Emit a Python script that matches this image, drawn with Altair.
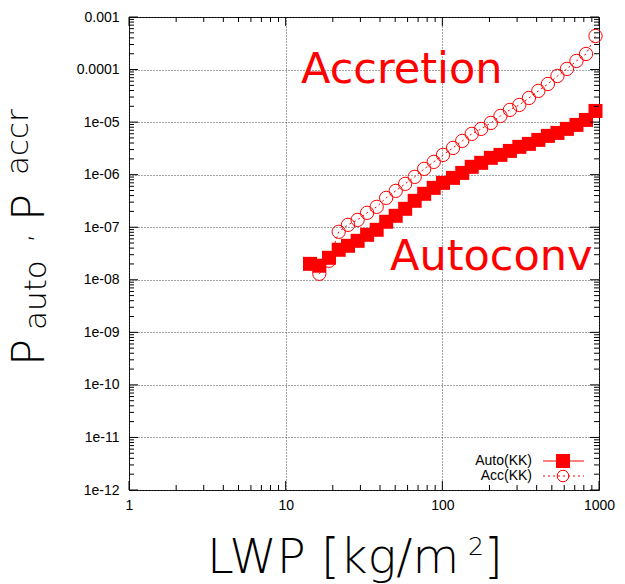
import altair as alt
import pandas as pd

# LWP bins [kg/m^2]
lwp = [14.3, 16.4, 18.9, 21.8, 25.0, 28.8, 33.1, 38.1, 43.8, 50.4, 57.9,
       66.6, 76.6, 88.1, 101, 117, 134, 154, 177, 204, 235, 270, 310, 357,
       410, 472, 543, 624, 718, 826, 950]

# autoconversion probability, KK scheme
p_auto = [2.01e-8, 1.85e-8, 2.62e-8, 3.72e-8, 4.43e-8, 5.51e-8, 7.17e-8,
          8.93e-8, 1.27e-7, 1.65e-7, 2.24e-7, 3.18e-7, 4.32e-7, 5.61e-7,
          6.98e-7, 8.69e-7, 1.08e-6, 1.41e-6, 1.68e-6, 2.09e-6, 2.38e-6,
          2.83e-6, 3.38e-6, 3.85e-6, 4.59e-6, 5.47e-6, 6.23e-6, 7.43e-6,
          8.85e-6, 1.10e-5, 1.63e-5]

# accretion probability, KK scheme (starts at the second bin)
lwp_acc = lwp[1:]
p_accr = [1.30e-8, 2.30e-8, 8.18e-8, 1.11e-7, 1.38e-7, 1.88e-7, 2.44e-7,
          3.62e-7, 4.92e-7, 6.68e-7, 9.08e-7, 1.29e-6, 1.75e-6, 2.38e-6,
          3.23e-6, 4.39e-6, 5.97e-6, 7.43e-6, 9.66e-6, 1.31e-5, 1.71e-5,
          2.12e-5, 2.88e-5, 3.92e-5, 5.32e-5, 7.55e-5, 1.03e-4, 1.46e-4,
          1.98e-4, 4.35e-4]

x_ticks = [1, 10, 100, 1000]
y_ticks = [1e-12, 1e-11, 1e-10, 1e-9, 1e-8, 1e-7, 1e-6, 1e-5, 1e-4, 1e-3]

W, H = 470, 473
RED = "#ff0000"
LABEL_FONT = "Liberation Sans"
TITLE_FONT = "DejaVu Sans"

auto_df = pd.DataFrame({"lwp": lwp, "p": p_auto})
acc_df = pd.DataFrame({"lwp": lwp_acc, "p": p_accr})

xs = alt.Scale(type="log", domain=[1, 1000], nice=False)
ys = alt.Scale(type="log", domain=[1e-12, 1e-3], nice=False)

grid_kw = dict(grid=True, gridDash=[1, 2], gridColor="#444444", gridWidth=1,
               ticks=False, domain=False, title=None, labelFlush=False,
               labelFont=LABEL_FONT, labelFontSize=14, labelColor="#000000")
x_axis = alt.Axis(values=x_ticks, labelExpr="toString(datum.value)",
                  labelPadding=8, **grid_kw)
y_axis = alt.Axis(values=y_ticks, labelPadding=10,
                  labelExpr="datum.value > 0.0005 ? '0.001' : datum.value > 0.00005 ? '0.0001' : "
                            "(round(-log(datum.value)/LN10) < 10 ? '1e-0' : '1e-') + round(-log(datum.value)/LN10)",
                  **grid_kw)

X = alt.X("lwp:Q", scale=xs, axis=x_axis)
Y = alt.Y("p:Q", scale=ys, axis=y_axis)

auto_line = alt.Chart(auto_df).mark_line(color=RED, strokeWidth=1).encode(x=X, y=Y)
auto_pts = alt.Chart(auto_df).mark_square(size=196, color=RED, opacity=1).encode(x=X, y=Y)
acc_line = alt.Chart(acc_df).mark_line(color=RED, strokeWidth=1, strokeDash=[2, 3]).encode(x=X, y=Y)
acc_pts = alt.Chart(acc_df).mark_point(shape="circle", size=177, filled=False,
                                       stroke=RED, strokeWidth=1, opacity=1).encode(x=X, y=Y)

# inward tick marks on all four sides (log minor ticks at 2..9)
x_major = pd.DataFrame({"lwp": x_ticks})
x_minor = pd.DataFrame({"lwp": [k * 10 ** d for d in range(0, 3) for k in range(2, 10)]})
y_major = pd.DataFrame({"p": y_ticks})
y_minor = pd.DataFrame({"p": [k * 10.0 ** d for d in range(-12, -3) for k in range(2, 10)]})

ticks = []
for df, ln in ((x_major, 9), (x_minor, 5)):
    ticks.append(alt.Chart(df).mark_rule(color="black", strokeWidth=1)
                 .encode(x=X, y=alt.value(H), y2=alt.value(H - ln)))
    ticks.append(alt.Chart(df).mark_rule(color="black", strokeWidth=1)
                 .encode(x=X, y=alt.value(0), y2=alt.value(ln)))
for df, ln in ((y_major, 9), (y_minor, 5)):
    ticks.append(alt.Chart(df).mark_rule(color="black", strokeWidth=1)
                 .encode(y=Y, x=alt.value(0), x2=alt.value(ln)))
    ticks.append(alt.Chart(df).mark_rule(color="black", strokeWidth=1)
                 .encode(y=Y, x=alt.value(W), x2=alt.value(W - ln)))

one = pd.DataFrame({"a": [0]})


def label(text, x, y, size, font=TITLE_FONT, color="black", align="left",
          baseline="alphabetic", angle=0, weight=400):
    kw = dict(text=text, font=font, fontSize=size, color=color, align=align,
              baseline=baseline, fontWeight=weight)
    if angle:
        kw["angle"] = angle
    return alt.Chart(one).mark_text(**kw).encode(x=alt.value(x), y=alt.value(y))


ox, oy = 129, 17  # plot origin inside the page
LIGHT = 200
texts = [
    # y title: P_auto, P_accr (rotated)
    label("P", 44 - ox, 366 - oy, 45, angle=270, weight=LIGHT),
    label("auto", 46 - ox, 330 - oy, 31, angle=270, weight=LIGHT),
    label(",", 30 - ox, 243 - oy, 31, angle=270, weight=LIGHT),
    label("P", 44 - ox, 221 - oy, 45, angle=270, weight=LIGHT),
    label("accr", 28 - ox, 175 - oy, 31, angle=270, weight=LIGHT),
    # x title: LWP [kg/m^2]
    label("LWP [kg/m", 207 - ox, 573 - oy, 48, weight=LIGHT),
    label("2", 468 - ox, 555 - oy, 25, weight=LIGHT),
    label("]", 484 - ox, 573 - oy, 48, weight=LIGHT),
    # annotations
    label("Accretion", 301 - ox, 83 - oy, 43, color=RED),
    label("Autoconv", 390 - ox, 270 - oy, 43, color=RED),
    # legend labels
    label("Auto(KK)", 532 - ox, 461 - oy, 14, font=LABEL_FONT, align="right", baseline="middle"),
    label("Acc(KK)", 532 - ox, 476 - oy, 14, font=LABEL_FONT, align="right", baseline="middle"),
]

lg_x0, lg_x1, lg_xc = 543 - ox, 584 - ox, 563 - ox
legend = [
    alt.Chart(one).mark_rule(color=RED, strokeWidth=1)
    .encode(x=alt.value(lg_x0), x2=alt.value(lg_x1), y=alt.value(461 - oy)),
    alt.Chart(one).mark_square(size=196, color=RED, opacity=1)
    .encode(x=alt.value(lg_xc), y=alt.value(461 - oy)),
    alt.Chart(one).mark_rule(color=RED, strokeWidth=1, strokeDash=[2, 3])
    .encode(x=alt.value(lg_x0), x2=alt.value(lg_x1), y=alt.value(476 - oy)),
    alt.Chart(one).mark_point(shape="circle", size=133, filled=False, stroke=RED,
                              strokeWidth=1, opacity=1)
    .encode(x=alt.value(lg_xc), y=alt.value(476 - oy)),
]

chart = alt.layer(
    auto_line, auto_pts, acc_line, acc_pts, *ticks, *texts, *legend
).properties(
    width=W, height=H,
    padding={"left": ox, "top": oy, "right": 625 - ox - W, "bottom": 584 - oy - H},
    autosize=alt.AutoSizeParams(type="none"),
    background="white",
).configure_view(stroke="black", strokeWidth=1)

chart.save("out.html", embed_options={"renderer": "svg", "actions": False})
